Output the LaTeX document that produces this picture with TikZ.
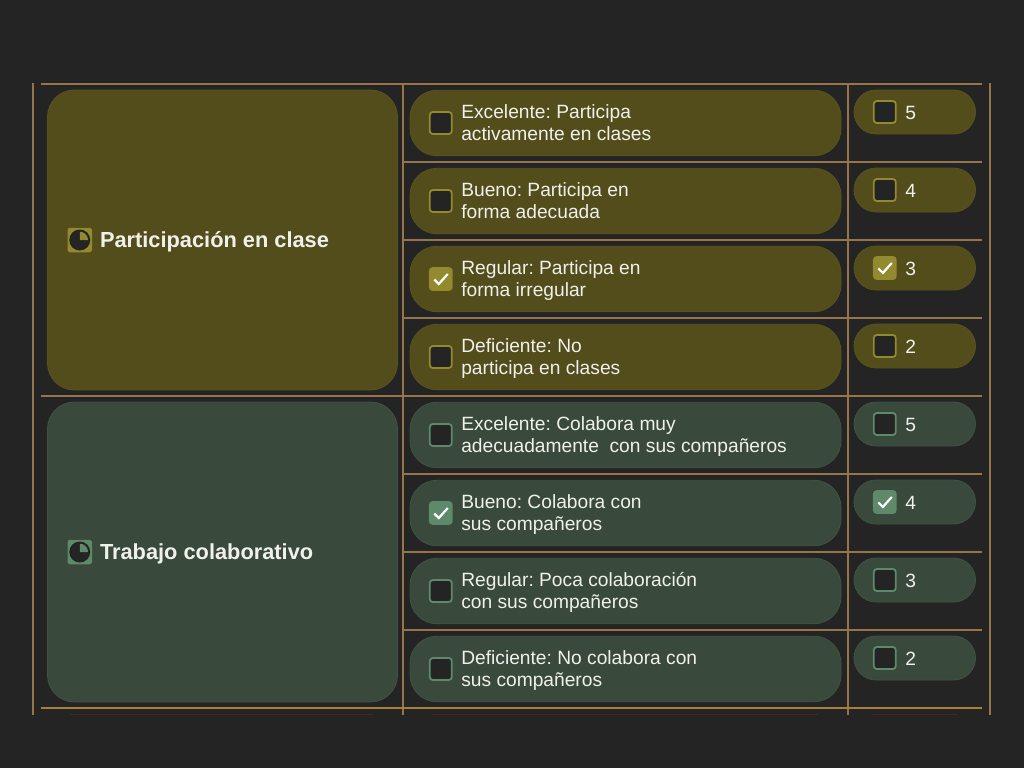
\documentclass[tikz,border=0pt]{standalone}
\usepackage{fontspec}
\setmainfont{Liberation Sans}
\usetikzlibrary{positioning}
\frenchspacing
\definecolor{pagebg}{HTML}{242424}
\definecolor{rulecol}{HTML}{96754A}
\definecolor{rulelow}{HTML}{A5803F}
\definecolor{olivefill}{HTML}{534C1B}
\definecolor{olivedraw}{HTML}{5A5320}
\definecolor{olivetick}{HTML}{93892F}
\definecolor{greenfill}{HTML}{39493B}
\definecolor{greendraw}{HTML}{405444}
\definecolor{greentick}{HTML}{5E8A6B}
\definecolor{txtcol}{HTML}{F0F0EC}
\definecolor{redline}{HTML}{4A2328}
\begin{document}
\begin{tikzpicture}[
    x=1pt, y=-1pt,
    font=\fontsize{19.2}{22}\selectfont,
    rule/.style={draw=rulecol, line width=1.1pt},
    panel/.style={line width=0.8pt, rounded corners=27pt, minimum width=350pt, minimum height=300pt, inner sep=0pt, outer sep=0pt},
    midpill/.style={line width=0.8pt, rounded corners=27pt, minimum width=431pt, minimum height=65.5pt, inner sep=0pt, outer sep=0pt},
    valpill/.style={line width=0.8pt, rounded corners=22pt, minimum width=121.5pt, minimum height=44pt, inner sep=0pt, outer sep=0pt},
    chkbox/.style={line width=1.8pt, rounded corners=3pt, minimum size=22pt, inner sep=0pt, outer sep=0pt, fill=pagebg},
    lbl/.style={text=txtcol, align=left, inner sep=0pt, outer sep=0pt, yshift=-3pt, execute at begin node=\strut, execute at end node=\strut},
    head/.style={text=txtcol, inner sep=0pt, outer sep=0pt, yshift=-3pt, font=\fontsize{21.8}{24}\selectfont\bfseries, execute at begin node=\strut},
    icon/.style={rounded corners=2.5pt, minimum size=24.5pt, inner sep=0pt, outer sep=0pt},
    dial/.style={circle, fill=pagebg, minimum size=21pt, inner sep=0pt, outer sep=0pt},
    olive/.style={fill=olivefill, draw=olivedraw},
    green/.style={fill=greenfill, draw=greendraw},
    tick/.pic={\draw[white, line width=2.2pt] (-6.5,0.5) -- (-2,5) -- (7,-5);}
]
\useasboundingbox (0,0) rectangle (1024,768);
\fill[pagebg] (0,0) rectangle (1024,768);

% table rules
\draw[rule] (33,83) -- (33,715);
\draw[rule] (403,84) -- (403,715);
\draw[rule] (848,84) -- (848,715);
\draw[rule] (990,83) -- (990,715);
\draw[rule] (41,84) -- (982,84);
\draw[rule] (403,162) -- (982,162);
\draw[rule] (403,240) -- (982,240);
\draw[rule] (403,318) -- (982,318);
\draw[rule] (41,396) -- (982,396);
\draw[rule] (403,474) -- (982,474);
\draw[rule] (403,552) -- (982,552);
\draw[rule] (403,630) -- (982,630);
\draw[rule, draw=rulelow] (41,708) -- (982,708);

% first group
\node[panel, olive] (partic) at (222.5,240) {};
\node[icon, fill=olivetick, right=20pt of partic.west] (particicon) {};
\node[dial] (particdial) at (particicon) {};
\fill[olivetick] (particdial.center) -- ++(0pt,8.3pt) arc[start angle=90, end angle=0, radius=8.3pt] -- cycle;
\node[head, right=8pt of particicon.east] (partichead) {Participación en clase};

\node[midpill, olive] (pexc) at (625.5,123) {};
\node[chkbox, draw=olivetick, right=19.8pt of pexc.west] (pexcchk) {};
\node[lbl, right=9.5pt of pexcchk.east] (pexclbl) {Excelente: Participa\\activamente en clases};
\node[midpill, olive] (pbue) at (625.5,201) {};
\node[chkbox, draw=olivetick, right=19.8pt of pbue.west] (pbuechk) {};
\node[lbl, right=9.5pt of pbuechk.east] (pbuelbl) {Bueno: Participa en\\forma adecuada};
\node[midpill, olive] (preg) at (625.5,279) {};
\node[chkbox, draw=olivetick, fill=olivetick, right=19.8pt of preg.west] (pregchk) {};
\pic at (pregchk) {tick};
\node[lbl, right=9.5pt of pregchk.east] (preglbl) {Regular: Participa en\\forma irregular};
\node[midpill, olive] (pdef) at (625.5,357) {};
\node[chkbox, draw=olivetick, right=19.8pt of pdef.west] (pdefchk) {};
\node[lbl, right=9.5pt of pdefchk.east] (pdeflbl) {Deficiente: No\\participa en clases};

\node[valpill, olive] (pfive) at (914.75,112) {};
\node[chkbox, draw=olivetick, right=19.8pt of pfive.west] (pfivechk) {};
\node[lbl, right=9.5pt of pfivechk.east] (pfivelbl) {5};
\node[valpill, olive] (pfour) at (914.75,190) {};
\node[chkbox, draw=olivetick, right=19.8pt of pfour.west] (pfourchk) {};
\node[lbl, right=9.5pt of pfourchk.east] (pfourlbl) {4};
\node[valpill, olive] (pthree) at (914.75,268) {};
\node[chkbox, draw=olivetick, fill=olivetick, right=19.8pt of pthree.west] (pthreechk) {};
\pic at (pthreechk) {tick};
\node[lbl, right=9.5pt of pthreechk.east] (pthreelbl) {3};
\node[valpill, olive] (ptwo) at (914.75,346) {};
\node[chkbox, draw=olivetick, right=19.8pt of ptwo.west] (ptwochk) {};
\node[lbl, right=9.5pt of ptwochk.east] (ptwolbl) {2};

% second group
\node[panel, green] (colab) at (222.5,552) {};
\node[icon, fill=greentick, right=20pt of colab.west] (colabicon) {};
\node[dial] (colabdial) at (colabicon) {};
\fill[greentick] (colabdial.center) -- ++(0pt,8.3pt) arc[start angle=90, end angle=0, radius=8.3pt] -- cycle;
\node[head, right=8pt of colabicon.east] (colabhead) {Trabajo colaborativo};

\node[midpill, green] (cexc) at (625.5,435) {};
\node[chkbox, draw=greentick, right=19.8pt of cexc.west] (cexcchk) {};
\node[lbl, right=9.5pt of cexcchk.east] (cexclbl) {Excelente: Colabora muy\\adecuadamente\ \ con sus compañeros};
\node[midpill, green] (cbue) at (625.5,513) {};
\node[chkbox, draw=greentick, fill=greentick, right=19.8pt of cbue.west] (cbuechk) {};
\pic at (cbuechk) {tick};
\node[lbl, right=9.5pt of cbuechk.east] (cbuelbl) {Bueno: Colabora con\\sus compañeros};
\node[midpill, green] (creg) at (625.5,591) {};
\node[chkbox, draw=greentick, right=19.8pt of creg.west] (cregchk) {};
\node[lbl, right=9.5pt of cregchk.east] (creglbl) {Regular: Poca colaboración\\con sus compañeros};
\node[midpill, green] (cdef) at (625.5,669) {};
\node[chkbox, draw=greentick, right=19.8pt of cdef.west] (cdefchk) {};
\node[lbl, right=9.5pt of cdefchk.east] (cdeflbl) {Deficiente: No colabora con\\sus compañeros};

\node[valpill, green] (cfive) at (914.75,424) {};
\node[chkbox, draw=greentick, right=19.8pt of cfive.west] (cfivechk) {};
\node[lbl, right=9.5pt of cfivechk.east] (cfivelbl) {5};
\node[valpill, green] (cfour) at (914.75,502) {};
\node[chkbox, draw=greentick, fill=greentick, right=19.8pt of cfour.west] (cfourchk) {};
\pic at (cfourchk) {tick};
\node[lbl, right=9.5pt of cfourchk.east] (cfourlbl) {4};
\node[valpill, green] (cthree) at (914.75,580) {};
\node[chkbox, draw=greentick, right=19.8pt of cthree.west] (cthreechk) {};
\node[lbl, right=9.5pt of cthreechk.east] (cthreelbl) {3};
\node[valpill, green] (ctwo) at (914.75,658) {};
\node[chkbox, draw=greentick, right=19.8pt of ctwo.west] (ctwochk) {};
\node[lbl, right=9.5pt of ctwochk.east] (ctwolbl) {2};

% top edge of the next row, cut off
\draw[redline] (70,714.5) -- (373,714.5);
\draw[redline] (432,714.5) -- (818,714.5);
\draw[redline] (872,714.5) -- (958,714.5);
\end{tikzpicture}
\end{document}
